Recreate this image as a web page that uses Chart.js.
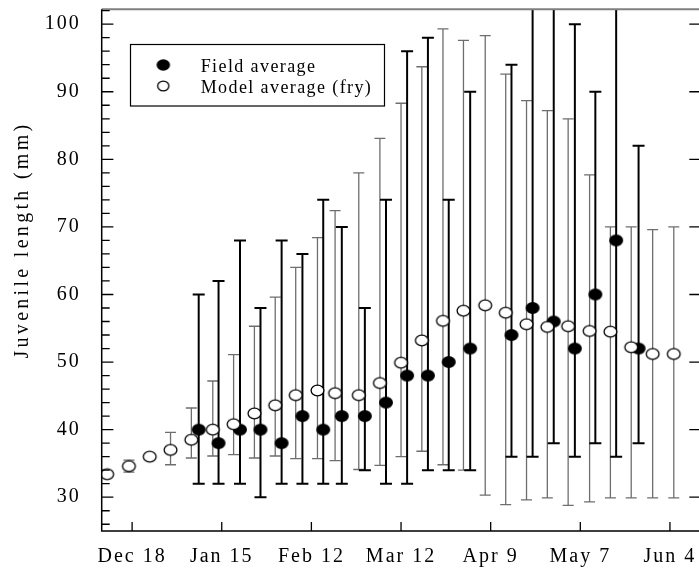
<!DOCTYPE html>
<html>
<head>
<meta charset="utf-8">
<script src="https://cdn.jsdelivr.net/npm/chart.js@4.4.1/dist/chart.umd.min.js"></script>
<style>
html, body { margin: 0; padding: 0; background: #fff; overflow: hidden; }
#wrap { width: 706px; height: 568px; }
</style>
</head>
<body>
<div id="wrap"><canvas id="lengthChart"></canvas></div>
<script>
// x values are days after Dec 18
var tickDays = [0, 28, 56, 84, 112, 140, 168];
var tickLabels = ['Dec 18', 'Jan 15', 'Feb 12', 'Mar 12', 'Apr 9', 'May 7', 'Jun 4'];
var yTicks = [30, 40, 50, 60, 70, 80, 90, 100];

var fieldLabel = 'Field average';
var fieldDays = [20.8, 27, 33.7, 40.1, 46.7, 53.2, 59.7, 65.5, 72.7, 79.3, 85.9, 92.4, 98.9, 105.6, 118.5, 125.1, 131.7, 138.3, 144.7, 151.2, 158.2];
var fieldMean = [40, 38, 40, 40, 38, 42, 40, 42, 42, 44, 48, 48, 50, 52, 54, 58, 56, 52, 60, 68, 52];
var fieldHigh = [60, 62, 68, 58, 68, 66, 74, 70, 58, 74, 96, 98, 74, 90, 94, 110, 110, 100, 90, 110, 82];
var fieldLow = [32, 32, 32, 30, 32, 32, 32, 32, 34, 32, 32, 34, 34, 34, 36, 36, 38, 36, 38, 36, 38];

var modelLabel = 'Model average (fry)';
var modelDays = [-7.8, -1, 5.5, 12, 18.5, 25.2, 31.7, 38.2, 44.7, 51.1, 57.9, 63.4, 70.8, 77.4, 84.0, 90.5, 97.1, 103.5, 110.3, 116.7, 123.2, 129.7, 136.2, 142.9, 149.4, 155.9, 162.6, 169.2];
var modelMean = [33.4, 34.6, 36.0, 37.0, 38.5, 40.0, 40.8, 42.4, 43.6, 45.1, 45.8, 45.4, 45.1, 46.9, 49.9, 53.2, 56.1, 57.6, 58.4, 57.3, 55.6, 55.2, 55.3, 54.6, 54.5, 52.2, 51.2, 51.2];
var modelHigh = [null, 35.5, null, 39.6, 43.2, 47.2, 51.1, 55.3, 59.6, 64.0, 68.4, 72.4, 78.0, 83.1, 88.3, 93.7, 99.3, 97.6, 98.3, 92.6, 88.7, 87.2, 86.0, 77.7, 70.0, 70.0, 69.6, 70.0];
var modelLow = [null, 33.7, null, 34.8, 35.8, 36.1, 36.3, 35.8, 36.1, 35.7, 35.7, 35.4, 34.1, 34.7, 36.0, 36.8, 34.8, 34.0, 30.3, 28.9, 29.6, 29.9, 28.8, 29.3, 29.9, 29.9, 29.9, 29.9];

var serif = "'Liberation Serif', 'Times New Roman', serif";

function ellipseMark(w, h, fill, stroke) {
    var c = document.createElement('canvas');
    c.width = Math.ceil(w) + 4;
    c.height = Math.ceil(h) + 4;
    var g = c.getContext('2d');
    g.beginPath();
    g.ellipse(c.width / 2, c.height / 2, w / 2, h / 2, 0, 0, Math.PI * 2);
    g.fillStyle = fill;
    g.fill();
    if (stroke) {
        g.lineWidth = 1.3;
        g.strokeStyle = stroke;
        g.stroke();
    }
    return c;
}

var filledMark = ellipseMark(14, 12, '#000');
var openMark = ellipseMark(12.8, 10.6, '#fff', '#000');
var filledLegend = ellipseMark(13.5, 11.5, '#000');
var openLegend = ellipseMark(11.2, 9.6, '#fff', '#000');

function points(days, mean, high, low) {
    return days.map(function(d, i) {
        return { x: d, y: mean[i], hi: high[i], lo: low[i] };
    });
}

var errorBars = {
    id: 'errorBars',
    beforeDatasetsDraw: function(chart) {
        var ctx = chart.ctx, xs = chart.scales.x, ys = chart.scales.y, a = chart.chartArea;
        ctx.save();
        ctx.beginPath();
        ctx.rect(a.left, a.top, a.right - a.left, a.bottom - a.top);
        ctx.clip();
        chart.data.datasets.forEach(function(ds) {
            ctx.strokeStyle = ds.barColor;
            ctx.lineWidth = ds.barWidth;
            var c = ds.capWidth / 2;
            ds.data.forEach(function(p) {
                if (p.hi == null) return;
                var x = xs.getPixelForValue(p.x);
                var y1 = ys.getPixelForValue(p.hi);
                var y2 = ys.getPixelForValue(p.lo);
                ctx.beginPath();
                ctx.moveTo(x, y1); ctx.lineTo(x, y2);
                ctx.moveTo(x - c, y1); ctx.lineTo(x + c, y1);
                ctx.moveTo(x - c, y2); ctx.lineTo(x + c, y2);
                ctx.stroke();
            });
        });
        ctx.restore();
    }
};

var spacing = {
    id: 'spacing',
    beforeLayout: function(chart) { chart.ctx.letterSpacing = '2px'; },
    beforeDraw: function(chart) { chart.ctx.letterSpacing = '2px'; }
};

var frame = {
    id: 'frame',
    afterDraw: function(chart) {
        var ctx = chart.ctx, xs = chart.scales.x, ys = chart.scales.y, a = chart.chartArea;
        ctx.save();
        // box
        ctx.lineWidth = 2;
        ctx.strokeStyle = '#808080';
        ctx.beginPath();
        ctx.moveTo(a.left, a.top); ctx.lineTo(a.right, a.top); ctx.lineTo(a.right, a.bottom);
        ctx.stroke();
        ctx.lineWidth = 1.5;
        ctx.strokeStyle = '#000';
        ctx.beginPath();
        ctx.moveTo(a.left, a.top); ctx.lineTo(a.left, a.bottom); ctx.lineTo(a.right, a.bottom);
        ctx.stroke();
        // inward ticks
        ctx.lineWidth = 1.3;
        ctx.beginPath();
        for (var v = 26; v <= 102; v += 2) {
            var y = ys.getPixelForValue(v);
            var major = v % 10 === 0;
            var len = major ? 11.7 : 8;
            ctx.moveTo(a.left, y); ctx.lineTo(a.left + len, y);
            if (major) { ctx.moveTo(a.right, y); ctx.lineTo(a.right - len, y); }
        }
        tickDays.forEach(function(d) {
            var x = xs.getPixelForValue(d);
            ctx.moveTo(x, a.bottom); ctx.lineTo(x, a.bottom - 9);
        });
        ctx.stroke();

        // y axis title
        ctx.fillStyle = '#000';
        ctx.font = '20px ' + serif;
        ctx.letterSpacing = '3.3px';
        ctx.textAlign = 'center';
        ctx.textBaseline = 'middle';
        ctx.translate(23, 240);
        ctx.rotate(-Math.PI / 2);
        ctx.fillText('Juvenile length (mm)', 0, 0);
        ctx.restore();

        // legend
        ctx.save();
        ctx.fillStyle = '#fff';
        ctx.fillRect(130.5, 44.5, 254, 61.5);
        ctx.lineWidth = 1.2;
        ctx.strokeStyle = '#000';
        ctx.strokeRect(130.5, 44.5, 254, 61.5);
        ctx.drawImage(filledLegend, 163.3 - filledLegend.width / 2, 65 - filledLegend.height / 2);
        ctx.drawImage(openLegend, 163.3 - openLegend.width / 2, 86 - openLegend.height / 2);
        ctx.fillStyle = '#000';
        ctx.font = '18px ' + serif;
        ctx.letterSpacing = '1.4px';
        ctx.textAlign = 'left';
        ctx.textBaseline = 'alphabetic';
        ctx.fillText(fieldLabel, 200.7, 71.5);
        ctx.fillText(modelLabel, 200.7, 93);
        ctx.restore();
    }
};

var chart = new Chart(document.getElementById('lengthChart').getContext('2d'), {
    type: 'scatter',
    data: {
        datasets: [{
            label: modelLabel,
            data: points(modelDays, modelMean, modelHigh, modelLow),
            pointStyle: openMark,
            order: 0,
            barColor: '#6e6e6e',
            barWidth: 1.3,
            capWidth: 11
        }, {
            label: fieldLabel,
            data: points(fieldDays, fieldMean, fieldHigh, fieldLow),
            pointStyle: filledMark,
            order: 1,
            barColor: '#000',
            barWidth: 2,
            capWidth: 12
        }]
    },
    options: {
        responsive: true,
        maintainAspectRatio: false,
        animation: false,
        layout: { padding: { top: 9.3, right: 2, left: 0, bottom: 0 } },
        plugins: { legend: { display: false }, tooltip: { enabled: false } },
        scales: {
            x: {
                type: 'linear',
                min: -9.5,
                max: 177.7,
                grid: { display: false },
                border: { display: false },
                afterBuildTicks: function(scale) {
                    scale.ticks = tickDays.map(function(d) { return { value: d }; });
                },
                afterFit: function(scale) {
                    scale.height = 37;
                    scale.paddingLeft = 0;
                    scale.paddingRight = 0;
                },
                ticks: {
                    autoSkip: false,
                    maxRotation: 0,
                    padding: 6,
                    color: '#000',
                    font: { family: serif, size: 20 },
                    callback: function(value) { return tickLabels[tickDays.indexOf(value)]; }
                }
            },
            y: {
                min: 25,
                max: 102.2,
                grid: { display: false },
                border: { display: false },
                afterBuildTicks: function(scale) {
                    scale.ticks = yTicks.map(function(v) { return { value: v }; });
                },
                afterFit: function(scale) {
                    scale.width = 101.7;
                    scale.paddingTop = 0;
                    scale.paddingBottom = 0;
                },
                ticks: {
                    padding: 13,
                    color: '#000',
                    font: { family: serif, size: 20 }
                }
            }
        }
    },
    plugins: [spacing, errorBars, frame]
});
</script>
</body>
</html>
